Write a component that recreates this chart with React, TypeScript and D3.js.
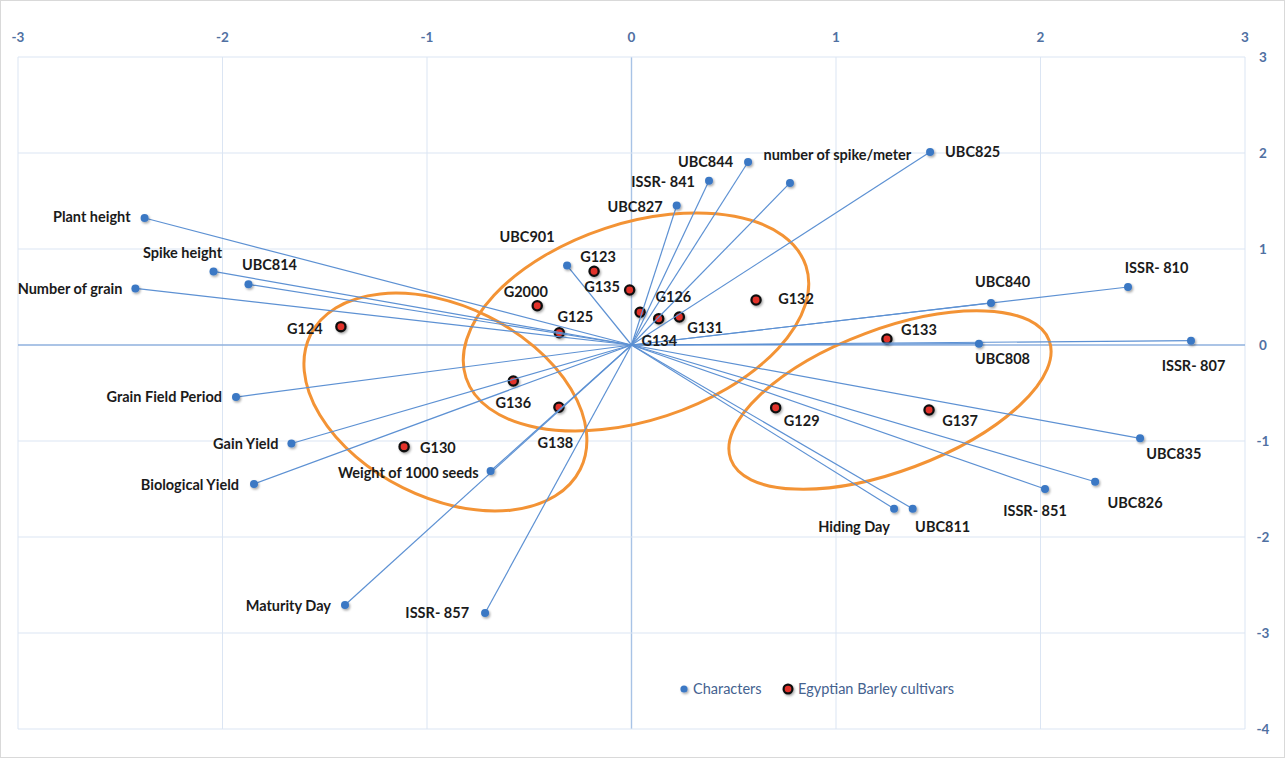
import React from "react";
import * as d3 from "d3";

// Biplot of characters / ISSR markers (vectors) and Egyptian barley cultivars (scores)
const characterNames = [
  "Plant height", "Spike height", "UBC814", "Number of grain", "Grain Field Period",
  "Gain Yield", "Biological Yield", "Weight of 1000 seeds", "Maturity Day", "ISSR- 857",
  "UBC901", "UBC827", "ISSR- 841", "UBC844", "number of spike/meter", "UBC825",
  "UBC840", "ISSR- 810", "UBC808", "ISSR- 807", "UBC835", "UBC826", "ISSR- 851",
  "UBC811", "Hiding Day",
];
const characterX = [
  -2.381, -2.044, -1.873, -2.426, -1.934,
  -1.663, -1.846, -0.689, -1.401, -0.716,
  -0.315, 0.221, 0.379, 0.570, 0.775, 1.460,
  1.758, 2.428, 1.699, 2.736, 2.487, 2.267, 2.022,
  1.375, 1.284,
];
const characterY = [
  1.323, 0.766, 0.632, 0.589, -0.542,
  -1.026, -1.448, -1.313, -2.708, -2.792,
  0.828, 1.453, 1.711, 1.906, 1.688, 2.010,
  0.438, 0.604, 0.014, 0.045, -0.972, -1.424, -1.5,
  -1.705, -1.705,
];

const cultivarNames = [
  "G123", "G135", "G2000", "G125", "G126", "G134", "G131", "G132",
  "G124", "G136", "G138", "G130", "G133", "G129", "G137",
];
const cultivarX = [
  -0.183, -0.009, -0.461, -0.353, 0.042, 0.133, 0.234, 0.609,
  -1.421, -0.578, -0.355, -1.112, 1.249, 0.705, 1.455,
];
const cultivarY = [
  0.768, 0.573, 0.409, 0.128, 0.341, 0.274, 0.292, 0.469,
  0.191, -0.375, -0.649, -1.059, 0.0625, -0.653, -0.677,
];

const xTickValues = [-3, -2, -1, 0, 1, 2, 3];
const yTickValues = [3, 2, 1, 0, -1, -2, -3, -4];
const legendLabels = ["Characters", "Egyptian Barley cultivars"];

// Where each point's name sits relative to its marker: [dx, dy, anchor]
const labelPlacement: Record<string, [number, number, string]> = {
  "Plant height": [-14, -1, "end"],
  "Spike height": [-31, -18.5, "middle"],
  "UBC814": [21, -19, "middle"],
  "Number of grain": [-13, 0, "end"],
  "Grain Field Period": [-14, 0, "end"],
  "Gain Yield": [-13, 0.5, "end"],
  "Biological Yield": [-15, 1, "end"],
  "Weight of 1000 seeds": [-12, 2, "end"],
  "Maturity Day": [-14, 0.5, "end"],
  "ISSR- 857": [-16, 0, "end"],
  "UBC901": [-40, -29, "middle"],
  "UBC827": [-14, 1, "end"],
  "ISSR- 841": [-14, 1, "end"],
  "UBC844": [-15, 0, "end"],
  "number of spike/meter": [-26.5, -27.7, "start"],
  "UBC825": [15, 0, "start"],
  "UBC840": [11.5, -21, "middle"],
  "ISSR- 810": [28.5, -19, "middle"],
  "UBC808": [23.5, 15.5, "middle"],
  "ISSR- 807": [2.5, 25, "middle"],
  "UBC835": [33.7, 16, "middle"],
  "UBC826": [40, 21, "middle"],
  "ISSR- 851": [-10, 21.7, "middle"],
  "UBC811": [30, 18, "middle"],
  "Hiding Day": [-40, 18, "middle"],
  "G123": [4, -14.6, "middle"],
  "G135": [-9.7, -3.3, "end"],
  "G2000": [-11.5, -13.7, "middle"],
  "G125": [16, -16, "middle"],
  "G126": [33.3, -15.6, "middle"],
  "G134": [0.6, 22, "middle"],
  "G131": [25.7, 11, "middle"],
  "G132": [40, -1.3, "middle"],
  "G124": [-36, 2.6, "middle"],
  "G136": [0, 22, "middle"],
  "G138": [-3.5, 36, "middle"],
  "G130": [33.8, 1.6, "middle"],
  "G133": [32, -9, "middle"],
  "G129": [26, 13, "middle"],
  "G137": [31, 10.7, "middle"],
};

// Hand-drawn cluster outlines: centre (data units), semi-axes (x units), tilt (deg)
const clusterCx = [0.022, -0.91, 1.264];
const clusterCy = [0.24, -0.594, -0.573];
const clusterRx = [0.875, 0.737, 0.831];
const clusterRy = [0.482, 0.468, 0.347];
const clusterTilt = [-18.2, 26.5, -20.5];

const W = 1287;
const H = 763;
const FONT = "Lato, 'Open Sans', sans-serif";

export default function App() {
  const x = d3.scaleLinear().domain([-3, 3]).range([18, 1245]);
  const y = d3.scaleLinear().domain([-4, 3]).range([729, 57]);
  const unit = x(1) - x(0);
  const [x0, x1] = x.range();
  const [y0, y1] = y.range();

  const characters = characterNames.map((name, i) => ({ name, vx: characterX[i], vy: characterY[i] }));
  const cultivars = cultivarNames.map((name, i) => ({ name, vx: cultivarX[i], vy: cultivarY[i] }));

  const label = (name: string, px: number, py: number) => {
    const [dx, dy, anchor] = labelPlacement[name] || [10, 0, "start"];
    return (
      <text
        key={"l-" + name}
        x={px + dx}
        y={py + dy}
        dy="0.35em"
        textAnchor={anchor as any}
        fontFamily={FONT}
        fontWeight={700}
        fontSize={14.5}
        fill="#1b1b1b"
      >
        {name}
      </text>
    );
  };

  return (
    <svg
      width={W}
      height={H}
      style={{ position: "absolute", left: 0, top: 0, display: "block", background: "#fff" }}
    >
      <defs>
        <filter id="dotShadow" x="-60%" y="-60%" width="220%" height="220%">
          <feDropShadow dx="1.2" dy="1.5" stdDeviation="1.2" floodColor="#000" floodOpacity="0.35" />
        </filter>
      </defs>

      <rect x={0.5} y={0.5} width={W - 3} height={H - 6} fill="#fff" stroke="#d9d9d9" />

      {/* grid */}
      {xTickValues.map((t) => (
        <line key={"gx" + t} x1={x(t)} x2={x(t)} y1={y1} y2={y0}
          stroke={t === 0 ? "#a8c3e6" : "#dbe5f3"} strokeWidth={t === 0 ? 1.4 : 1} />
      ))}
      {yTickValues.map((t) => (
        <line key={"gy" + t} x1={x0} x2={x1} y1={y(t)} y2={y(t)}
          stroke={t === 0 ? "#8fb1de" : "#dbe5f3"} strokeWidth={t === 0 ? 1.6 : 1} />
      ))}

      {/* tick labels */}
      {xTickValues.map((t) => (
        <text key={"tx" + t} x={x(t)} y={37} dy="0.35em" textAnchor="middle"
          fontFamily={FONT} fontWeight={700} fontSize={13.5} fill="#5070a2">
          {t}
        </text>
      ))}
      {yTickValues.map((t) => (
        <text key={"ty" + t} x={1263} y={y(t)} dy="0.35em" textAnchor="middle"
          fontFamily={FONT} fontWeight={700} fontSize={13.5} fill="#5070a2">
          {t}
        </text>
      ))}

      {/* cluster outlines */}
      {clusterCx.map((cx, i) => (
        <ellipse key={"e" + i} cx={0} cy={0}
          rx={clusterRx[i] * unit} ry={clusterRy[i] * unit}
          transform={`translate(${x(cx)},${y(clusterCy[i])}) rotate(${clusterTilt[i]})`}
          fill="none" stroke="#f39335" strokeWidth={3} />
      ))}

      {/* cultivar scores */}
      {cultivars.map((d) => (
        <circle key={"c" + d.name} cx={x(d.vx)} cy={y(d.vy)} r={4.6}
          fill="#e2312b" stroke="#111" strokeWidth={2.3} filter="url(#dotShadow)" />
      ))}

      {/* character vectors */}
      {characters.map((d) => (
        <line key={"v" + d.name} x1={x(0)} y1={y(0)} x2={x(d.vx)} y2={y(d.vy)}
          stroke="#5d91d3" strokeWidth={1.2} />
      ))}
      {characters.map((d) => (
        <circle key={"p" + d.name} cx={x(d.vx)} cy={y(d.vy)} r={4}
          fill="#3b78c4" filter="url(#dotShadow)" />
      ))}

      {characters.map((d) => label(d.name, x(d.vx), y(d.vy)))}
      {cultivars.map((d) => label(d.name, x(d.vx), y(d.vy)))}

      {/* legend */}
      <g fontFamily={FONT} fontSize={14.5} fill="#44628f">
        <circle cx={684} cy={689} r={3.6} fill="#3b78c4" filter="url(#dotShadow)" />
        <text x={693} y={689} dy="0.35em">{legendLabels[0]}</text>
        <circle cx={788} cy={689} r={4.4} fill="#e2312b" stroke="#111" strokeWidth={2.2}
          filter="url(#dotShadow)" />
        <text x={798} y={689} dy="0.35em">{legendLabels[1]}</text>
      </g>
    </svg>
  );
}
